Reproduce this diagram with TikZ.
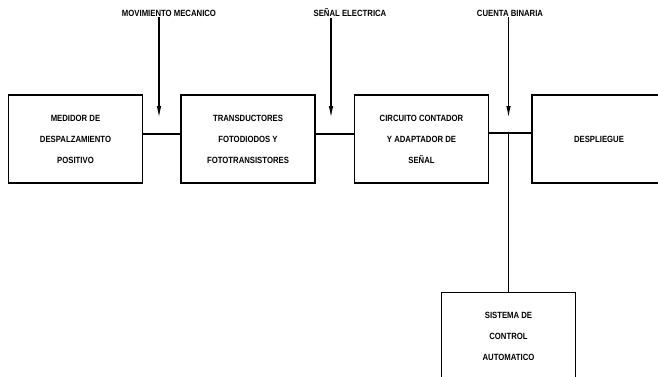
\documentclass[tikz,border=0pt]{standalone}
\usepackage{fontspec}
\setmainfont{Liberation Sans}[FakeStretch=0.86]
\usetikzlibrary{arrows.meta,positioning}
\tikzset{
    bloque/.style={draw, line width=1.5pt, minimum width=134pt, minimum height=88pt, align=center, font=\bfseries\fontsize{9}{21}\selectfont},
    etiqueta/.style={font=\bfseries\fontsize{9}{10}\selectfont, inner sep=1pt},
    flecha/.style={-{Latex[length=12pt,width=4.5pt]}, line width=1.3pt},
    enlace/.style={line width=1.3pt}
}

\begin{document}
\begin{tikzpicture}[x=1pt,y=-1pt,node distance=37pt and 37pt]
    \useasboundingbox (0,0) rectangle (658,376);

    \node[bloque] (medidor) at (75.5,139) {MEDIDOR DE\\DESPALZAMIENTO\\POSITIVO};
    \node[bloque, right=of medidor] (transd) {TRANSDUCTORES\\FOTODIODOS Y\\FOTOTRANSISTORES};
    \node[bloque, right=38pt of transd] (contador) {CIRCUITO CONTADOR\\Y ADAPTADOR DE\\SEÑAL};
    \node[bloque, right=42pt of contador] (despliegue) {DESPLIEGUE};
    \node[bloque, below=108pt of contador, xshift=87pt] (control) {SISTEMA DE\\CONTROL\\AUTOMATICO};

    \node[etiqueta] (movim) at (169,13) {MOVIMIENTO MECANICO};
    \node[etiqueta] (senal) at (350,13) {SEÑAL ELECTRICA};
    \node[etiqueta] (cuenta) at (510,13) {CUENTA BINARIA};

    \coordinate (p1) at (159,118);
    \coordinate (p2) at (331,118);
    \coordinate (p3) at (control.north |- p1);

    \draw[enlace] ([yshift=5pt]medidor.east) -- ([yshift=5pt]transd.west);
    \draw[enlace] ([yshift=5pt]transd.east) -- ([yshift=5pt]contador.west);
    \draw[enlace] ([yshift=6pt]contador.east) -- ([yshift=6pt]despliegue.west);
    \draw[enlace] ([yshift=6pt]contador.east -| control.north) -- (control.north);

    \draw[flecha] (movim.south -| p1) -- (p1);
    \draw[flecha] (senal.south -| p2) -- (p2);
    \draw[flecha] (cuenta.south -| p3) -- (p3);
\end{tikzpicture}
\end{document}
